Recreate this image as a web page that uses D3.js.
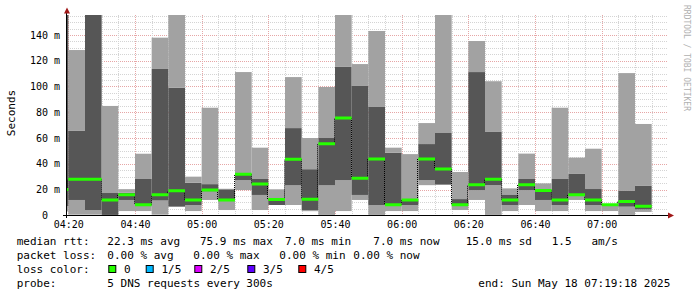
<!DOCTYPE html>
<html>
<head>
<meta charset="utf-8">
<script src="https://cdn.jsdelivr.net/npm/d3@7"></script>
<style>
body { margin: 0; background: #fff; }
text { font-family: "DejaVu Sans Mono", monospace; white-space: pre; }
</style>
</head>
<body>
<script>
// 5 minute slots, 5 pings each, sorted low -> high (ms)
let slots = ["04:15","04:20","04:25","04:30","04:35","04:40","04:45","04:50","04:55",
             "05:00","05:05","05:10","05:15","05:20","05:25","05:30","05:35","05:40",
             "05:45","05:50","05:55","06:00","06:05","06:10","06:15","06:20","06:25",
             "06:30","06:35","06:40","06:45","06:50","06:55","07:00","07:05","07:10"];
let ping1  = [3, 0.5, 0.5, 0.3, 3.3, 3.3, 0.5, 6.7, 3.3, 11.9, 4.1, 19.6, 4.1, 8, 8, 3.2, 0.3, 3.3,
              11.9, 0.3, 3.3, 3.3, 23.4, 23.8, 4.1, 11.9, 0.3, 3.3, 8, 3.3, 3.3, 11.9, 3.3, 3.3, 0.3, 2.6];
let ping2  = [7, 11.9, 4.1, 0.3, 11.9, 7.2, 11.5, 6.7, 8, 18.5, 11, 27.4, 15.8, 8, 23.3, 4.1, 23.3, 27.4,
              15.8, 8, 8, 8, 27.4, 23.8, 7.9, 19.6, 23.4, 8, 19.6, 11.9, 8, 15.5, 8, 7.5, 6.7, 4.6];
let median = [20, 27.9, 27.9, 11.9, 16, 8.2, 16, 19.1, 11.9, 19.6, 11.9, 31.8, 24.3, 12.2, 43.5, 12.4, 55.6, 75.5,
              28.7, 43.7, 8.2, 11.9, 43.7, 35.9, 8.2, 23.7, 27.9, 11.9, 23.7, 19.3, 11.9, 16, 11.9, 8.2, 10.8, 7.0];
let ping4  = [170, 65.5, 170, 17.3, 17.5, 28.2, 113.6, 99.1, 25.3, 24.2, 20.2, 32.6, 28.2, 12.6, 67.7, 35.8, 60, 115.2,
              100.4, 84.1, 48.6, 12.1, 55.3, 63.9, 12.6, 111.2, 64.7, 16.2, 28.2, 20, 28.2, 32.1, 20.4, 8.5, 18.9, 22.8];
let ping5  = [180, 128.3, 180, 84.9, 20.3, 47.8, 137.9, 170, 30, 83.5, 20.6, 111.2, 52.5, 20.2, 107.3, 60, 99.6, 170,
              117.4, 143.1, 52.5, 47.5, 71.6, 170, 33.6, 135.3, 104.1, 20.9, 47.9, 24.8, 83.5, 44.8, 51.7, 8.8, 110.4, 70.9];

let startTime = "04:19:18", endTime = "07:19:18";
let yMax = 155.5;
let xTicks = ["04:20","04:40","05:00","05:20","05:40","06:00","06:20","06:40","07:00"];
let yTicks = [0, 20, 40, 60, 80, 100, 120, 140];
let yTickLabels = ["0", "20 m", "40 m", "60 m", "80 m", "100 m", "120 m", "140 m"];

let rttRow  = ["median rtt:", "22.3 ms avg", "75.9 ms max", "7.0 ms min", "7.0 ms now", "15.0 ms sd", "1.5   am/s"];
let lossRow = ["packet loss:", "0.00 % avg", "0.00 % max", "0.00 % min", "0.00 % now"];
let lossLabels = ["0", "1/5", "2/5", "3/5", "4/5"];
let lossColors = ["#26ff00", "#00b8ff", "#dd00ff", "#5e00ff", "#ff0000"];
let probeRow = ["probe:", "5 DNS requests every 300s"];
let endLabel = "end: Sun May 18 07:19:18 2025";

// layout
let rttX = [16.7, 107.3, 200, 285, 373.3, 465.7, 551.7];
let lossX = [16.7, 107.3, 193.3, 279.3, 353.3];
let boxX = [108.3, 145.7, 194.3, 247.3, 298.3];
let rowY = [244.5, 258.8, 273, 287.3];

var svg = d3.select('body').append('svg')
    .attr('width', 697)
    .attr('height', 297);

var parseHM = d3.timeParse('%H:%M');
var parseHMS = d3.timeParse('%H:%M:%S');
var t0 = parseHMS(startTime), t1 = parseHMS(endTime);

var xScale = d3.scaleTime().domain([t0, t1]).range([66, 666]);
var yScale = d3.scaleLinear().domain([0, yMax]).range([215.3, 15]);

svg.append('clipPath').attr('id', 'plot')
  .append('rect').attr('x', 66).attr('y', 15).attr('width', 600).attr('height', 200.5);

var data = slots.map((s, i) => {
    let t = parseHM(s);
    return {t: t, t2: d3.timeMinute.offset(t, 5), p1: ping1[i], p2: ping2[i], med: median[i], p4: ping4[i], p5: ping5[i]};
});

// grid (behind the smoke)
var grid = svg.append('g');
var minorY = d3.range(5, yMax, 5);
grid.selectAll(null).data(minorY).enter().append('line')
    .attr('x1', 66).attr('x2', 668)
    .attr('y1', d => Math.round(yScale(d)) + 0.5)
    .attr('y2', d => Math.round(yScale(d)) + 0.5)
    .style('stroke', d => d % 20 === 0 ? '#e6a6a6' : '#d4d4d4')
    .style('stroke-dasharray', '1,1');
var minorX = d3.timeMinute.every(5).range(t0, t1);
grid.selectAll(null).data(minorX).enter().append('line')
    .attr('x1', d => Math.round(xScale(d)) + 0.5)
    .attr('x2', d => Math.round(xScale(d)) + 0.5)
    .attr('y1', 15).attr('y2', 215)
    .style('stroke', d => d.getMinutes() % 20 === 0 ? '#e6a6a6' : '#d4d4d4')
    .style('stroke-dasharray', '1,1');

var smoke = svg.append('g').attr('clip-path', 'url(#plot)');
var layers = [['p1', 'p2', '#a2a2a2'], ['p2', 'p4', '#565656'], ['p4', 'p5', '#a2a2a2']];
layers.forEach((l) => {
    smoke.selectAll(null)
        .data(data)
        .enter().append('rect')
        .attr('x', d => xScale(d.t))
        .attr('width', d => xScale(d.t2) - xScale(d.t))
        .attr('y', d => yScale(d[l[1]]))
        .attr('height', d => yScale(d[l[0]]) - yScale(d[l[1]]))
        .style('fill', l[2]);
});

// step connectors
smoke.selectAll(null)
    .data(data.slice(1))
    .enter().append('line')
    .attr('x1', d => Math.round(xScale(d.t)) - 0.5)
    .attr('x2', d => Math.round(xScale(d.t)) - 0.5)
    .attr('y1', (d, i) => yScale(data[i].med))
    .attr('y2', d => yScale(d.med))
    .style('stroke', '#000')
    .style('stroke-dasharray', '1,1');

smoke.selectAll(null)
    .data(data)
    .enter().append('line')
    .attr('x1', d => xScale(d.t))
    .attr('x2', d => xScale(d.t2))
    .attr('y1', d => yScale(d.med))
    .attr('y2', d => yScale(d.med))
    .style('stroke', lossColors[0])
    .style('stroke-width', 3);

// axes
var xAxis = d3.axisBottom(xScale)
    .tickValues(xTicks.map(parseHM))
    .tickFormat(d3.timeFormat('%H:%M'))
    .tickSize(0);
var gx = svg.append('g').attr('transform', 'translate(0,215.5)').call(xAxis);
gx.select('.domain').remove();
gx.selectAll('text').attr('dy', null).attr('y', 12.5)
    .attr('font-family', '"DejaVu Sans Mono", monospace').attr('font-size', 10).style('fill', '#000');

var yAxis = d3.axisLeft(yScale)
    .tickValues(yTicks)
    .tickFormat((d, i) => yTickLabels[i].length < 3 ? yTickLabels[i] + '  ' : yTickLabels[i])
    .tickSize(0)
    .tickPadding(6);
var gy = svg.append('g').attr('transform', 'translate(66,0)').call(yAxis);
gy.select('.domain').remove();
gy.selectAll('text').style('white-space', 'pre')
    .attr('font-family', '"DejaVu Sans Mono", monospace').attr('font-size', 10).style('fill', '#000');

svg.append('line').attr('x1', 63).attr('x2', 669).attr('y1', 215.5).attr('y2', 215.5).style('stroke', '#000');
svg.append('line').attr('x1', 66.5).attr('x2', 66.5).attr('y1', 218).attr('y2', 12).style('stroke', '#000');
svg.append('path').attr('d', 'M64,13.5L70,13.5L67,7.5Z').style('fill', '#a01818');
svg.append('path').attr('d', 'M668,212.5L668,218.5L674,215.5Z').style('fill', '#a01818');

svg.append('text')
    .attr('transform', 'translate(15,113) rotate(-90)')
    .attr('text-anchor', 'middle')
    .attr('font-size', 11)
    .text('Seconds');

svg.append('text')
    .attr('transform', 'translate(684,5) rotate(90)')
    .attr('font-size', 8)
    .style('fill', '#b0b0b0')
    .text('RRDTOOL / TOBI OETIKER');

// legend
var leg = svg.append('g').attr('font-size', 11);
rttRow.forEach((s, i) => leg.append('text').attr('x', rttX[i]).attr('y', rowY[0]).attr('xml:space', 'preserve').text(s));
lossRow.forEach((s, i) => leg.append('text').attr('x', lossX[i]).attr('y', rowY[1]).text(s));
leg.append('text').attr('x', rttX[0]).attr('y', rowY[2]).text('loss color:');
lossLabels.forEach((s, i) => {
    leg.append('rect').attr('x', boxX[i] + 0.5).attr('y', rowY[2] - 7.5).attr('width', 7).attr('height', 7)
        .style('fill', lossColors[i]).style('stroke', '#000');
    leg.append('text').attr('x', boxX[i] + 15.7).attr('y', rowY[2]).text(s);
});
probeRow.forEach((s, i) => leg.append('text').attr('x', rttX[i]).attr('y', rowY[3]).text(s));
leg.append('text').attr('x', 478.3).attr('y', rowY[3]).text(endLabel);
</script>
</body>
</html>
